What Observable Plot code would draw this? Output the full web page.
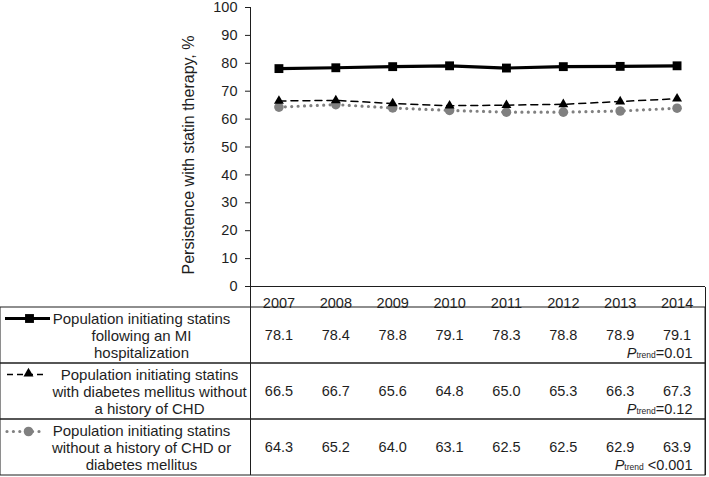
<!DOCTYPE html>
<html>
<head>
<meta charset="utf-8">
<script src="https://cdn.jsdelivr.net/npm/d3@7"></script>
<script src="https://cdn.jsdelivr.net/npm/@observablehq/plot@0.6"></script>
<style>
  html, body { margin: 0; padding: 0; background: #fff; }
  #wrap { width: 709px; font-family: "Liberation Sans", Arial, sans-serif; }
  #wrap svg { display: block; overflow: visible; }
</style>
</head>
<body>
<div id="wrap"></div>
<script>
// ---- data ----
const years = [2007, 2008, 2009, 2010, 2011, 2012, 2013, 2014];
const seriesIds = ["mi", "dm", "none"];
const seriesLabels = [
  "Population initiating statins\nfollowing an MI\nhospitalization",
  "Population initiating statins\nwith diabetes mellitus without\na history of CHD",
  "Population initiating statins\nwithout a history of CHD or\ndiabetes mellitus"
];
const miValues   = [78.1, 78.4, 78.8, 79.1, 78.3, 78.8, 78.9, 79.1];
const dmValues   = [66.5, 66.7, 65.6, 64.8, 65.0, 65.3, 66.3, 67.3];
const noneValues = [64.3, 65.2, 64.0, 63.1, 62.5, 62.5, 62.9, 63.9];
const pTrend = ["=0.01", "=0.12", " <0.001"];
const yLabel = "Persistence with statin therapy, %";

// ---- derived tables ----
const valueSets = [miValues, dmValues, noneValues];
const rows = seriesIds.map((id, i) => ({id, label: seriesLabels[i], p: pTrend[i]}));
const data = seriesIds.flatMap((id, i) => years.map((year, j) => ({series: id, year, value: valueSets[i][j]})));
const bySeries = id => data.filter(d => d.series === id);
const xDomain = [d3.min(years) - 0.5, d3.max(years) + 0.5];

const ink = "#1e1e1e";
const grey = "#808080";
const font = "Liberation Sans, Arial, sans-serif";

// ---- chart ----
const chart = Plot.plot({
  width: 709, height: 287,
  marginTop: 7, marginBottom: 1, marginLeft: 250, marginRight: 4,
  style: {fontFamily: font, fontSize: "14.5px", color: ink, background: "none", overflow: "visible"},
  x: {domain: xDomain, axis: null},
  y: {domain: [0, 100], ticks: 10, tickSize: 5, tickPadding: 8, label: null},
  marks: [
    Plot.ruleX([xDomain[0]], {stroke: ink}),
    Plot.ruleY([0], {stroke: ink}),
    Plot.text([yLabel], {frameAnchor: "left", textAnchor: "middle", dx: -62, dy: 8, rotate: -90, fontSize: 16, fill: ink}),
    Plot.line(bySeries("none"), {x: "year", y: "value", stroke: grey, strokeWidth: 3.2, strokeDasharray: "0,6.4", strokeLinecap: "round"}),
    Plot.line(bySeries("dm"), {x: "year", y: "value", stroke: "#000", strokeWidth: 1.5, strokeDasharray: "7,5"}),
    Plot.line(bySeries("mi"), {x: "year", y: "value", stroke: "#000", strokeWidth: 3.2}),
    Plot.dot(bySeries("none"), {x: "year", y: "value", r: 4.8, fill: grey, stroke: "none"}),
    Plot.dot(bySeries("dm"), {x: "year", y: "value", symbol: "triangle", r: 3.7, fill: "#000", stroke: "none"}),
    Plot.dot(bySeries("mi"), {x: "year", y: "value", symbol: "square", r: 5, fill: "#000", stroke: "none"})
  ]
});

// ---- data table ----
const table = Plot.plot({
  width: 709, height: 190,
  marginTop: 20, marginBottom: 2, marginLeft: 0, marginRight: 4,
  style: {fontFamily: font, fontSize: "14.5px", color: ink, background: "none", overflow: "visible"},
  x: {domain: xDomain, range: [250, 705], axis: null},
  y: {domain: seriesIds, axis: null, padding: 0},
  marks: [
    Plot.cell(seriesIds, {y: d => d, fill: "none", stroke: ink, inset: 0}),
    Plot.ruleX(xDomain, {insetTop: -20, stroke: ink}),
    Plot.text(years, {x: d => d, frameAnchor: "top", dy: -10, text: d => String(d), fill: ink}),
    Plot.text(data, {x: "year", y: "series", text: d => d.value.toFixed(1), fill: ink}),
    Plot.text(rows, {y: "id", x: () => xDomain[1], text: d => "Ptrend" + d.p, textAnchor: "end", dx: -13, dy: 18, fill: ink}),
    Plot.text(rows.filter(d => d.id !== "dm"), {y: "id", text: "label", frameAnchor: "left", dx: 141, textAnchor: "middle", lineHeight: 17 / 15, fontSize: 15, fill: ink}),
    Plot.text(rows.filter(d => d.id === "dm"), {y: "id", text: "label", frameAnchor: "left", dx: 149, textAnchor: "middle", lineHeight: 17 / 15, fontSize: 15, fill: ink}),
    // legend keys
    Plot.ruleY(["mi"], {y: d => d, insetLeft: 5, insetRight: 655, dy: -17, stroke: "#000", strokeWidth: 3.2}),
    Plot.dot(["mi"], {y: d => d, frameAnchor: "left", dx: 29, dy: -17, symbol: "square", r: 5, fill: "#000", stroke: "none"}),
    Plot.ruleY(["dm"], {y: d => d, insetLeft: 7, insetRight: 660, dy: -17, stroke: "#000", strokeWidth: 1.5, strokeDasharray: "6,4"}),
    Plot.dot(["dm"], {y: d => d, frameAnchor: "left", dx: 28, dy: -18, symbol: "triangle", r: 3.7, fill: "#000", stroke: "none"}),
    Plot.ruleY(["none"], {y: d => d, insetLeft: 7, insetRight: 660, dy: -16, stroke: grey, strokeWidth: 3.2, strokeDasharray: "0,6.4", strokeLinecap: "round"}),
    Plot.dot(["none"], {y: d => d, frameAnchor: "left", dx: 28, dy: -16, r: 4.8, fill: grey, stroke: "none"})
  ]
});

// P_trend: italic P with small "trend"
d3.select(table).selectAll("text").each(function () {
  const t = this.textContent;
  if (t.startsWith("Ptrend")) {
    const rest = t.slice(6);
    const s = d3.select(this);
    s.text(null);
    s.append("tspan").attr("font-style", "italic").text("P");
    s.append("tspan").attr("font-size", "8.5px").text("trend");
    s.append("tspan").text(rest);
  }
});

const wrap = document.getElementById("wrap");
wrap.appendChild(chart);
wrap.appendChild(table);
</script>
</body>
</html>
